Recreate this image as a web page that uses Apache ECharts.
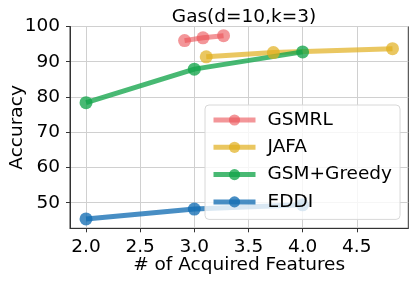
<!DOCTYPE html>
<html><head><meta charset="utf-8">
<script src="https://cdn.jsdelivr.net/npm/echarts@6/dist/echarts.min.js"></script>
<style>html,body{margin:0;padding:0;background:#fff}#c{width:415px;height:282px}</style>
</head><body><div id="c"></div>
<script>
const title = 'Gas(d=10,k=3)';
const xName = '# of Acquired Features';
const yName = 'Accuracy';
const seriesNames = ['GSMRL', 'JAFA', 'GSM+Greedy', 'EDDI'];
const gsmrlX = [2.91, 3.08, 3.27];
const gsmrlY = [96.0, 96.8, 97.4];
const jafaX = [3.11, 3.73, 4.83];
const jafaY = [91.4, 92.6, 93.7];
const greedyX = [2.0, 3.0, 4.0];
const greedyY = [78.4, 87.9, 92.8];
const eddiX = [2.0, 3.0, 4.0];
const eddiY = [45.4, 48.2, 49.4];
const xTicks = [2.0, 2.5, 3.0, 3.5, 4.0, 4.5];
const yTicks = [50, 60, 70, 80, 90, 100];

const colors = ['rgba(235,80,85,0.6)', 'rgba(225,175,30,0.7)', 'rgba(20,165,75,0.78)', 'rgba(20,110,180,0.78)'];
const zip = (xs, ys) => xs.map((x, i) => [x, ys[i]]);
const datas = [zip(gsmrlX, gsmrlY), zip(jafaX, jafaY), zip(greedyX, greedyY), zip(eddiX, eddiY)];
const font = 'DejaVu Sans';
const fs = 18.5;
const chart = echarts.init(document.getElementById('c'), null, {renderer: 'canvas'});
chart.setOption({
  animation: false,
  title: {text: title, left: 239, top: 3, textAlign: 'center', textStyle: {fontFamily: font, fontSize: fs, fontWeight: 'normal', color: '#000'}},
  grid: {left: 70, right: 6.7, top: 26.5, bottom: 53.7, show: true, borderColor: '#333', borderWidth: 1, containLabel: false, outerBoundsMode: 'none'},
  legend: {
    orient: 'vertical', left: 205, top: 105, z: 20,
    data: seriesNames, itemWidth: 42, itemHeight: 14, itemGap: 8.3,
    padding: [5.5, 8, 8, 6],
    lineStyle: {width: 5},
    backgroundColor: 'rgba(255,255,255,0.8)', borderColor: '#d8d8d8', borderWidth: 1, borderRadius: 4,
    textStyle: {fontFamily: font, fontSize: fs, lineHeight: 19, color: '#000', padding: [0, 0, 0, 7]}
  },
  xAxis: {
    type: 'value', min: 1.852, max: 4.976,
    name: xName, nameLocation: 'middle', nameGap: 27, nameMoveOverlap: false,
    nameTextStyle: {fontFamily: font, fontSize: fs, color: '#000'},
    axisLine: {show: true, onZero: false, lineStyle: {color: '#333'}},
    axisTick: {show: true, customValues: xTicks, length: 4, lineStyle: {color: '#333'}},
    axisLabel: {customValues: xTicks, fontFamily: font, fontSize: fs, color: '#000', margin: 9, formatter: v => v.toFixed(1)},
    splitLine: {show: true, lineStyle: {color: '#d0d0d0'}}
  },
  yAxis: {
    type: 'value', min: 42.75, max: 100,
    name: yName, nameLocation: 'middle', nameGap: 43, nameMoveOverlap: false,
    nameTextStyle: {fontFamily: font, fontSize: fs, color: '#000'},
    axisLine: {show: true, lineStyle: {color: '#333'}},
    axisTick: {show: true, customValues: yTicks, length: 4, lineStyle: {color: '#333'}},
    axisLabel: {customValues: yTicks, fontFamily: font, fontSize: fs, color: '#000', margin: 10},
    splitLine: {show: true, lineStyle: {color: '#d0d0d0'}}
  },
  series: seriesNames.map((n, i) => ({
    name: n, type: 'line', data: datas[i],
    symbol: 'circle', symbolSize: 13, showSymbol: true,
    lineStyle: {width: 5, color: colors[i]},
    itemStyle: {color: colors[i]},
    z: 2
  }))
});
</script></body></html>
